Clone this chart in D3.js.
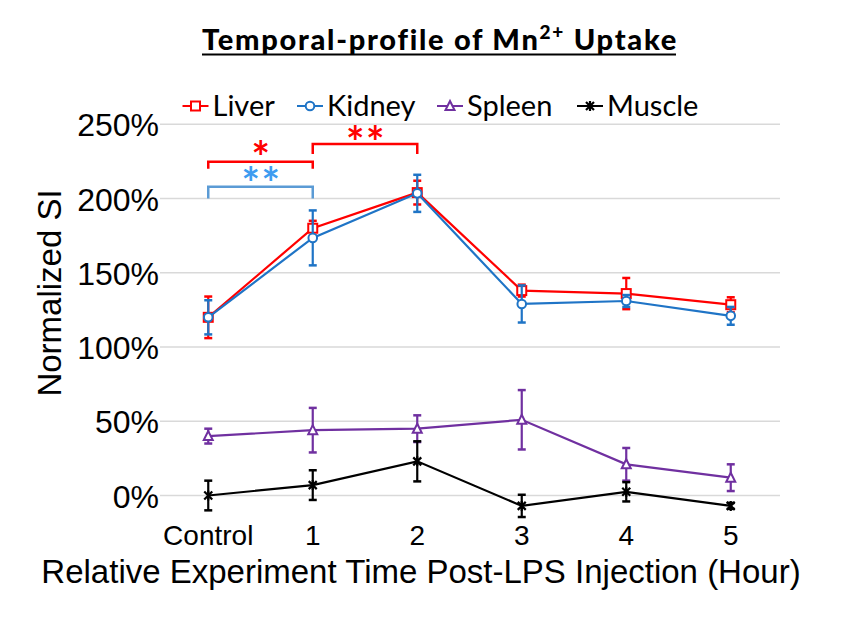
<!DOCTYPE html>
<html>
<head>
<meta charset="utf-8">
<script src="https://cdn.jsdelivr.net/npm/d3@7"></script>
<style>
  body { margin: 0; background: #fff; }
  text { font-family: "Liberation Sans", Arial, sans-serif; }
</style>
</head>
<body>
<div id="chart"></div>
<script>
// categories and values (percent)
var categories = ["Control", "1", "2", "3", "4", "5"];
var liver     = [120, 180, 204, 138, 136, 128.5];
var liverErr  = [14, 5, 8, 4, 10.5, 5];
var kidney    = [120, 173.5, 203.5, 129, 131, 121];
var kidneyErr = [11.5, 18.5, 12.5, 12.5, 4, 6];
var spleen    = [40, 44, 45, 51, 21, 12];
var spleenErr = [5, 15, 9, 20, 11, 9];
var muscle    = [0, 7, 23, -7, 2.5, -7];
var muscleErr = [10, 10, 13.5, 7.5, 6.5, 2];
var yTicks = [0, 50, 100, 150, 200, 250];

var svgWidth = 845, svgHeight = 624;

var svg = d3.select("#chart")
  .append("svg")
  .attr("width", svgWidth)
  .attr("height", svgHeight);

var x = d3.scalePoint()
  .domain(categories)
  .range([156, 783])
  .padding(0.5);

var y = d3.scaleLinear()
  .domain([0, 250])
  .range([495.5, 124.3]);

// gridlines
svg.append("g")
  .selectAll("line")
  .data(yTicks)
  .enter()
  .append("line")
  .attr("x1", 160)
  .attr("x2", 780)
  .attr("y1", d => y(d))
  .attr("y2", d => y(d))
  .style("stroke", "#d9d9d9")
  .style("stroke-width", 1.5);

// y tick labels
svg.append("g")
  .selectAll("text")
  .data(yTicks)
  .enter()
  .append("text")
  .attr("x", 159)
  .attr("y", d => y(d) + 12)
  .attr("text-anchor", "end")
  .style("font-size", "32px")
  .text(d => d + "%");

// x tick labels
svg.append("g")
  .selectAll("text")
  .data(categories)
  .enter()
  .append("text")
  .attr("x", d => x(d))
  .attr("y", 545)
  .attr("text-anchor", "middle")
  .style("font-size", "28px")
  .text(d => d);

// axis titles
svg.append("text")
  .attr("x", 421)
  .attr("y", 583)
  .attr("text-anchor", "middle")
  .style("font-size", "33px")
  .text("Relative Experiment Time Post-LPS Injection (Hour)");

svg.append("text")
  .attr("transform", "translate(61, 293) rotate(-90)")
  .attr("text-anchor", "middle")
  .style("font-size", "33px")
  .text("Normalized SI");

// title, stretched to the reference width with letter spacing, underlined by hand
var titleLeft = 202, titleRight = 676;
var title = svg.append("text")
  .attr("x", titleLeft)
  .attr("y", 49.5)
  .style("font-family", "Lato, sans-serif")
  .style("font-weight", "900")
  .style("font-size", "29px");
title.append("tspan").text("Temporal-profile of Mn");
title.append("tspan").attr("dy", -11).style("font-size", "19px").text("2+");
title.append("tspan").attr("dy", 11).text(" Uptake");
var tw = title.node().getComputedTextLength();
var nChars = "Temporal-profile of Mn2+ Uptake".length;
title.style("letter-spacing", ((titleRight - titleLeft - tw) / (nChars - 1)) + "px");
svg.append("line")
  .attr("x1", titleLeft).attr("x2", titleRight)
  .attr("y1", 54.5).attr("y2", 54.5)
  .style("stroke", "#000").style("stroke-width", 2);

// marker drawing
function drawMarker(g, shape, color, cx, cy) {
  if (shape == "square") {
    g.append("rect")
      .attr("x", cx - 4.5).attr("y", cy - 4.5)
      .attr("width", 9).attr("height", 9)
      .style("fill", "#fff").style("stroke", color).style("stroke-width", 2);
  } else if (shape == "circle") {
    g.append("circle")
      .attr("cx", cx).attr("cy", cy).attr("r", 4.3)
      .style("fill", "#fff").style("stroke", color).style("stroke-width", 2);
  } else if (shape == "triangle") {
    g.append("path")
      .attr("d", `M${cx},${cy - 5} L${cx + 4.5},${cy + 4} L${cx - 4.5},${cy + 4} Z`)
      .style("fill", "#fff").style("stroke", color).style("stroke-width", 2);
  } else {
    g.append("path")
      .attr("d", `M${cx - 4},${cy - 4} L${cx + 4},${cy + 4} M${cx + 4},${cy - 4} L${cx - 4},${cy + 4} M${cx},${cy - 5} L${cx},${cy + 5}`)
      .style("fill", "none").style("stroke", color).style("stroke-width", 2.2);
  }
}

var series = [
  {name: "Liver",  values: liver,  err: liverErr,  color: "#ff0000", shape: "square"},
  {name: "Kidney", values: kidney, err: kidneyErr, color: "#1f74c6", shape: "circle"},
  {name: "Spleen", values: spleen, err: spleenErr, color: "#7030a0", shape: "triangle"},
  {name: "Muscle", values: muscle, err: muscleErr, color: "#000000", shape: "star"}
];

var line = d3.line()
  .x((d, i) => x(categories[i]))
  .y(d => y(d));

series.forEach(function(s) {
  var g = svg.append("g");
  g.append("path")
    .attr("d", line(s.values))
    .style("fill", "none")
    .style("stroke", s.color)
    .style("stroke-width", 2.2);

  s.values.forEach(function(v, i) {
    var cx = x(categories[i]);
    var top = y(v + s.err[i]), bot = y(v - s.err[i]);
    g.append("line")
      .attr("x1", cx).attr("x2", cx).attr("y1", top).attr("y2", bot)
      .style("stroke", s.color).style("stroke-width", 2.2);
    [top, bot].forEach(function(cy) {
      g.append("line")
        .attr("x1", cx - 4).attr("x2", cx + 4).attr("y1", cy).attr("y2", cy)
        .style("stroke", s.color).style("stroke-width", 2.5);
    });
  });

  s.values.forEach(function(v, i) {
    drawMarker(g, s.shape, s.color, x(categories[i]), y(v));
  });
});

// legend
var legendX = [182.5, 297, 437, 577];
var legend = svg.append("g");
series.forEach(function(s, i) {
  var lx = legendX[i], ly = 106;
  legend.append("line")
    .attr("x1", lx).attr("x2", lx + 26).attr("y1", ly).attr("y2", ly)
    .style("stroke", s.color).style("stroke-width", 2);
  drawMarker(legend, s.shape, s.color, lx + 13, ly);
  legend.append("text")
    .attr("x", lx + 30)
    .attr("y", ly + 10)
    .style("font-family", "Lato, sans-serif")
    .style("font-size", "29px")
    .text(s.name);
});

// significance brackets; star text centred on the given level
var brackets = [
  {from: "Control", to: "1", top: 224.8, foot: 220, color: "#ff0000", label: "*",  labelColor: "#ff0000", labelAt: 232},
  {from: "Control", to: "1", top: 208,   foot: 200, color: "#5b9bd5", label: "**", labelColor: "#3d9cf0", labelAt: 215},
  {from: "1",       to: "2", top: 236.7, foot: 230, color: "#ff0000", label: "**", labelColor: "#ff0000", labelAt: 242}
];
brackets.forEach(function(b) {
  var x1 = x(b.from), x2 = x(b.to);
  svg.append("path")
    .attr("d", `M${x1},${y(b.foot)} L${x1},${y(b.top)} L${x2},${y(b.top)} L${x2},${y(b.foot)}`)
    .style("fill", "none")
    .style("stroke", b.color)
    .style("stroke-width", 2.5);
  svg.append("text")
    .attr("x", (x1 + x2) / 2 + 1)
    .attr("y", y(b.labelAt) + 17)
    .attr("text-anchor", "middle")
    .style("font-family", "Lato, sans-serif")
    .style("font-weight", "bold")
    .style("font-size", "30px")
    .style("letter-spacing", "1px")
    .style("fill", b.labelColor)
    .style("transform-box", "fill-box")
    .style("transform-origin", "center")
    .style("transform", "scale(1.45)")
    .text(b.label);
});
</script>
</body>
</html>
